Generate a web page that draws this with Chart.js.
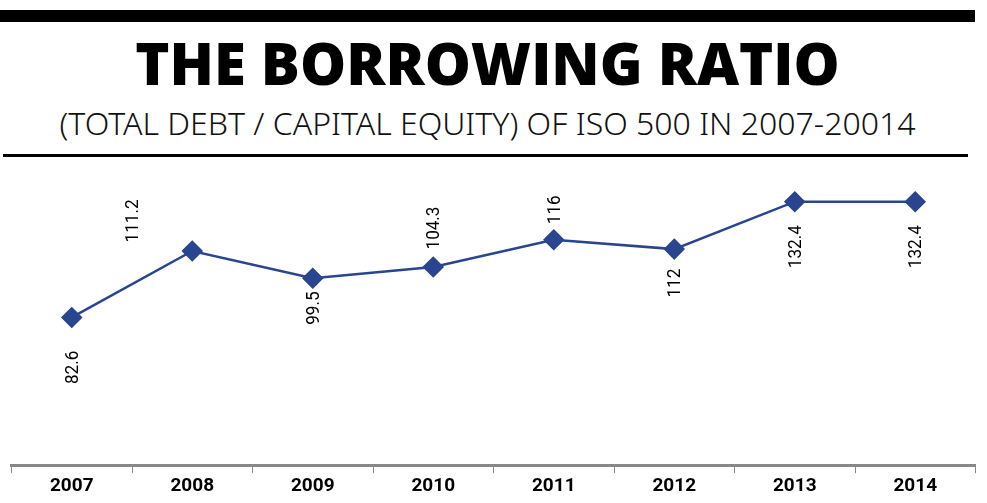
<!DOCTYPE html>
<html><head><meta charset="utf-8">
<script src="https://cdn.jsdelivr.net/npm/chart.js"></script>
<style>
body{margin:0;width:987px;height:503px;background:#fff;position:relative;overflow:hidden;font-family:"Open Sans",sans-serif}
#bar{position:absolute;left:0;top:10px;width:975px;height:12px;background:#000}
#t{position:absolute;left:0;width:975px;top:28px;text-align:center;font-weight:800;font-size:58px;line-height:70px;color:#000}
#s{position:absolute;left:0;width:975px;top:102px;text-align:center;font-family:"Noto Sans";font-weight:300;font-size:32px;line-height:42px;color:#111}
#rule{position:absolute;left:3px;top:154px;width:965px;height:3px;background:#000}
#wrap{position:absolute;left:0;top:160px;width:987px;height:340px}
</style></head><body>
<div id="bar"></div>
<div id="t">THE BORROWING RATIO</div>
<div id="s">(TOTAL DEBT / CAPITAL EQUITY) OF ISO 500 IN 2007-20014</div>
<div id="rule"></div>
<div id="wrap"><canvas id="c"></canvas></div>
<script>
const years=["2007","2008","2009","2010","2011","2012","2013","2014"];
const ratio=[82.6,111.2,99.5,104.3,116,112,132.4,132.4];
const labelDx=[0,-60,0,0,0,0,0,0];
const labelDy=[50,-30,30,-39,-30,34,45,45];
const lbl={id:'lbl',afterDatasetsDraw(ch){
 const ctx=ch.ctx,m=ch.getDatasetMeta(0);
 ctx.save();ctx.font='19px Roboto';ctx.fillStyle='#000';ctx.textAlign='center';ctx.textBaseline='middle';
 m.data.forEach((p,i)=>{ctx.save();ctx.translate(p.x+labelDx[i],p.y+labelDy[i]);ctx.rotate(-Math.PI/2);ctx.scale(0.9,1);ctx.fillText(String(ratio[i]),0,1);ctx.restore();});
 ctx.restore();}};
new Chart(document.getElementById('c'),{type:'line',
data:{labels:years,datasets:[{data:ratio,borderColor:'#2a4590',backgroundColor:'#2a4590',borderWidth:2.5,pointStyle:'rectRot',pointRadius:9,pointHoverRadius:9,tension:0}]},
options:{responsive:true,maintainAspectRatio:false,animation:false,
layout:{padding:{left:2,right:7,top:0,bottom:0}},
plugins:{legend:{display:false},tooltip:{enabled:false}},
scales:{y:{display:false,min:19,max:145.4},
x:{offset:true,grid:{display:true,drawOnChartArea:false,color:'#888',tickLength:8,offset:true},border:{color:'#888',width:3},
ticks:{color:'#000',font:{family:'Roboto',size:19,weight:'bold'},padding:2}}}},
plugins:[lbl]});
</script></body></html>
